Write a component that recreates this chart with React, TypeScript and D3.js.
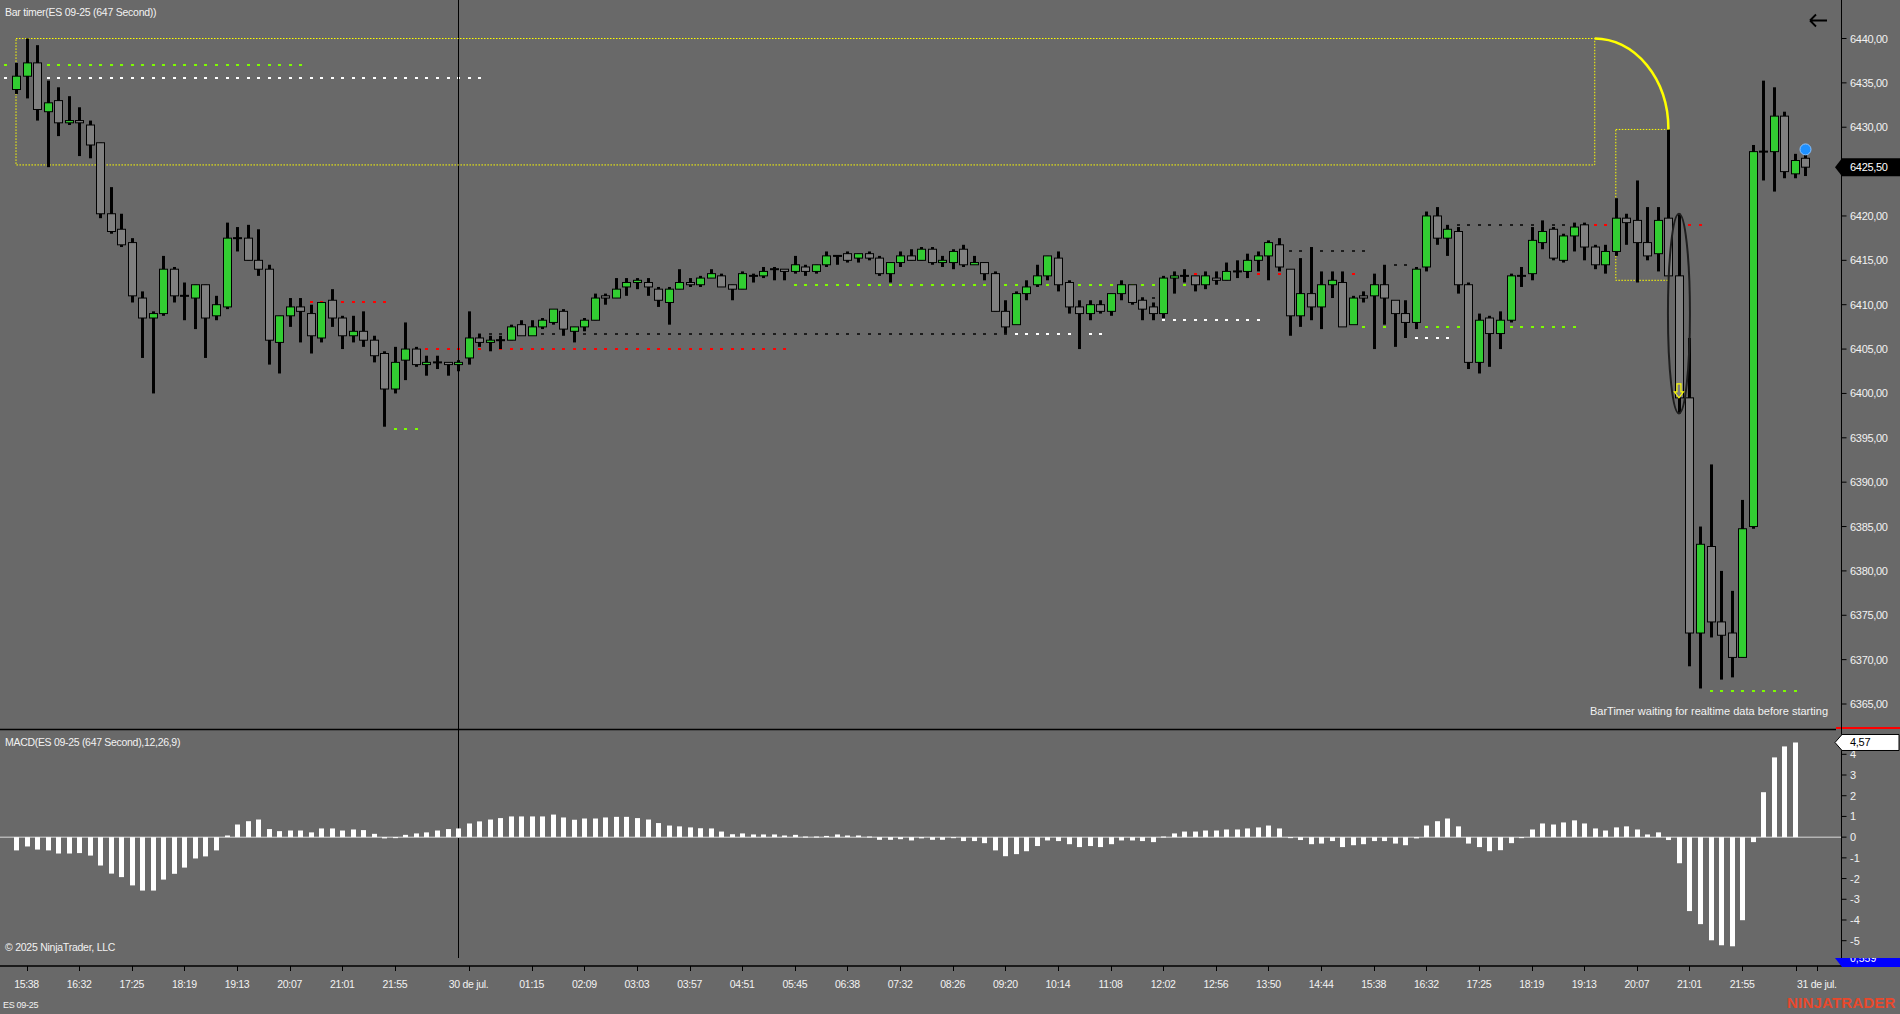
import React from 'react';
import * as d3 from 'd3';

// ---------- DATA ----------
const opens = [
  6434.25,6435.75,6437.25,6431.75,6433,6430.5,6430.75,6430.25,6428.25,6420.25,
  6418.5,6417,6410.75,6408.5,6409,6414,6411,6410.75,6412.25,6408.75,
  6409.75,6417.5,6417.5,6415,6414,6405.75,6408.75,6409.75,6409,6406.25,
  6410.5,6408.5,6406.5,6407,6406,6404.5,6400.5,6403.75,6405,6403.25,
  6403.5,6403.5,6403.25,6404,6406.25,6405.75,6406,6406,6407.75,6406.5,
  6407.5,6408,6409.25,6407,6407.5,6408.25,6411,6410.75,6412,6412.5,
  6412.5,6411.75,6410.25,6411.75,6412.5,6412.25,6413,6413.25,6412.25,6411.75,
  6413.25,6413.25,6414,6414,6413.75,6414.25,6413.75,6414.5,6415.5,6415.75,
  6415.25,6415.75,6415.25,6413.5,6414.75,6415.5,6415,6416.25,6414.75,6414.75,
  6416.25,6414.5,6414.75,6413.5,6409.25,6407.75,6411.25,6412.25,6413.25,6415.25,
  6412.5,6409.75,6409,6410,6409.25,6411.25,6412.25,6410.5,6409.75,6409,
  6413,6413.25,6413.25,6412.25,6413,6412.75,6413.75,6413.75,6415,6415.5,
  6416.75,6414,6408.75,6411.25,6409.75,6412.25,6412.5,6407.75,6411,6411,
  6412.25,6410.5,6409,6408,6414.25,6420,6417.5,6418.25,6412.25,6403.5,
  6408.5,6406.75,6408.25,6413.25,6413.5,6417,6418.5,6415,6417.75,6419,
  6416.5,6414.5,6416,6419.75,6419.5,6417,6415.75,6419.75,6413.25,6399.5,
  6373,6382.75,6374.25,6373,6370.25,6385,6427.25,6427.25,6431.25,6424.75,
  6426.5,
];
const highs = [
  6437.25,6440,6439.25,6435.25,6434.5,6433.5,6432.25,6430.75,6428.25,6423.25,
  6420.25,6417.5,6411.5,6409.25,6415.5,6414.25,6412.5,6412.25,6412.25,6411,
  6419.25,6418.75,6419,6418.5,6414.5,6408.75,6410.75,6410.75,6410,6410.25,
  6411.75,6408.75,6408.75,6409.25,6406.5,6404.75,6405.25,6408,6405.25,6404.25,
  6404.25,6403.5,6403.75,6409.25,6406.75,6406.5,6406.5,6407.75,6408.25,6408.25,
  6408.5,6409.5,6409.5,6407.5,6408.5,6411.25,6411.25,6413,6413,6413,
  6413,6412,6412,6414,6413,6413.25,6414,6413.5,6412.25,6413.75,
  6413.5,6414.25,6414.25,6414,6415.5,6414.5,6414.5,6416,6415.5,6416,
  6415.75,6416,6415.5,6414.75,6416,6416.25,6416.5,6416.5,6415.5,6416.25,
  6416.75,6415.5,6414.75,6413.75,6410.5,6411.5,6412.75,6414.5,6415.5,6416,
  6412.75,6410.5,6410.5,6410.5,6411.25,6412.75,6412.25,6410.75,6410.25,6413.25,
  6413.75,6414,6413.25,6413.75,6413.75,6414.75,6415,6415.75,6416,6417.25,
  6417.5,6414,6415.25,6416.5,6413.75,6413.75,6413.75,6411,6411.5,6413.5,
  6414.5,6410.5,6410.5,6414.25,6420.5,6421,6419,6418.75,6412.5,6409,
  6408.75,6409.25,6413.5,6414.25,6418.75,6419.5,6418.75,6418,6419.25,6419.25,
  6416.75,6416.75,6422,6420.25,6424,6421,6421,6429.75,6420.25,6406.25,
  6385,6392,6380,6377.75,6388,6428,6435.25,6434.5,6431.75,6427,
  6427,
];
const lows = [
  6433.75,6433.25,6430.75,6425.5,6429,6430.25,6426.75,6426.5,6419.75,6418,
  6416.5,6410.25,6404,6400,6408.75,6410.25,6408.25,6407.25,6404,6408.25,
  6409.5,6416,6415,6413.25,6403.25,6402.25,6407.5,6405.75,6404.5,6405.75,
  6407.5,6405,6405.75,6405.25,6403.5,6396.25,6400,6401.5,6403,6402,
  6402.75,6402,6402.5,6403.25,6405.25,6404.75,6405,6406,6406.5,6406.5,
  6407.25,6407.75,6406.5,6405.75,6407,6408.25,6410,6410.75,6411,6411.75,
  6411,6409.75,6407.75,6411.75,6412,6412,6413,6412,6410.5,6411.75,
  6412.5,6413,6412.75,6412.75,6413.5,6413.25,6413.5,6414.25,6414.5,6414.75,
  6414.75,6415,6413.25,6412.5,6414.25,6415,6415,6414.5,6414.25,6414,
  6414.25,6414.5,6412.75,6409.25,6406.75,6407.75,6410.5,6412,6412.75,6411.5,
  6409,6405,6408.25,6409,6408.75,6410.5,6410,6408.25,6408.25,6408.5,
  6411.25,6412.5,6411.5,6411.75,6412.25,6412.75,6413,6413,6413.75,6412.75,
  6413.75,6406.5,6407.5,6408.25,6407.25,6410.75,6407.5,6407.75,6410.25,6405,
  6407.75,6405.25,6406.25,6407.25,6413.75,6416.75,6415.5,6411.25,6402.75,6402.25,
  6403,6405,6408,6412,6412.75,6416.25,6415,6414.75,6416,6415,
  6414,6413.5,6415.5,6416.75,6412.5,6415,6413.75,6413.25,6397.75,6369.25,
  6366.75,6372.5,6367.75,6368,6370.25,6384.75,6424,6422.75,6424.25,6424.25,
  6424.5,
];
const closes = [
  6435.75,6437.25,6432,6432.75,6430.5,6430.75,6430.5,6428,6420.25,6418.25,
  6416.75,6411,6408.5,6409,6414,6411,6411,6412.25,6408.5,6410,
  6417.5,6417.5,6415,6414,6406,6408.75,6409.75,6409.25,6406.5,6410.25,
  6408.5,6406.5,6407,6406,6404.25,6400.5,6403.5,6405,6403.25,6403.5,
  6403.5,6403.25,6403.5,6406.25,6405.75,6406,6406,6407.5,6406.5,6407.5,
  6408.25,6409.5,6407.25,6407.5,6408.25,6410.75,6410.75,6411.75,6412.5,6412.75,
  6412,6410.5,6411.75,6412.5,6412.25,6413,6413.5,6412,6411.75,6413.5,
  6413.25,6413.75,6414,6413.75,6414.5,6413.75,6414.5,6415.5,6415.5,6415,
  6415.75,6415.25,6413.5,6414.75,6415.5,6415,6416.25,6414.75,6415,6416,
  6414.5,6414.75,6413.5,6409.25,6407.5,6411.25,6412,6413.25,6415.5,6412.25,
  6409.75,6409,6410,6409.25,6411.25,6412.25,6410.25,6409.5,6409,6413,
  6413.25,6413.25,6412.25,6413.25,6412.75,6413.75,6413.75,6415,6415.5,6417,
  6414.25,6408.75,6411.25,6409.75,6412.25,6412.75,6407.5,6410.75,6410.75,6412.25,
  6410.75,6409,6408,6414,6420,6417.5,6418.5,6412.25,6403.5,6408.25,
  6406.75,6408.25,6413.25,6413.25,6417.25,6418.25,6415.25,6417.75,6418.75,6416.5,
  6414.5,6416,6419.75,6419.25,6417,6415.5,6419.5,6413.25,6399.5,6373,
  6383,6374.25,6372.75,6370.25,6384.75,6427.25,6427.25,6431.25,6425,6426.25,
  6425.5,
];
const macdHist: (number | null)[] = [
  -0.64,-0.45,-0.60,-0.64,-0.79,-0.79,-0.77,-0.89,-1.37,-1.76,
  -1.93,-2.33,-2.58,-2.58,-2.05,-1.77,-1.47,-1.03,-0.93,-0.64,
  0.08,0.61,0.77,0.85,0.39,0.29,0.32,0.32,0.23,0.42,
  0.42,0.32,0.37,0.34,0.16,-0.06,0.0,0.11,0.18,0.23,
  0.32,0.39,0.42,0.66,0.76,0.85,0.92,1.0,1.0,1.0,
  1.0,1.09,0.95,0.84,0.90,0.90,0.95,0.98,0.98,0.92,
  0.85,0.68,0.56,0.52,0.47,0.43,0.42,0.27,0.14,0.18,
  0.13,0.13,0.13,0.08,0.11,0.03,0.03,0.06,0.13,0.08,
  0.08,0.03,-0.13,-0.13,-0.10,-0.16,-0.06,-0.13,-0.13,-0.05,
  -0.19,-0.19,-0.29,-0.64,-0.92,-0.82,-0.68,-0.43,-0.16,-0.19,
  -0.34,-0.48,-0.43,-0.48,-0.34,-0.16,-0.16,-0.19,-0.24,0.03,
  0.18,0.27,0.27,0.32,0.32,0.37,0.37,0.42,0.47,0.56,
  0.42,0.0,-0.14,-0.34,-0.31,-0.19,-0.48,-0.39,-0.34,-0.19,
  -0.19,-0.31,-0.39,-0.06,0.56,0.77,0.90,0.52,-0.31,-0.48,
  -0.68,-0.63,-0.29,-0.03,0.37,0.66,0.61,0.71,0.81,0.66,
  0.42,0.32,0.47,0.52,0.37,0.13,0.23,-0.14,-1.26,-3.57,
  -4.20,-4.98,-5.22,-5.27,-4.01,-0.24,2.17,3.85,4.38,4.57,
  null,
];
const priceTickValues = [6365,6370,6375,6380,6385,6390,6395,6400,6405,6410,6415,6420,6425,6430,6435,6440];
const macdTickValues = [-5,-4,-3,-2,-1,0,1,2,3,4];
const timeTickBars = [1,6,11,16,21,26,31,36,43,49,54,59,64,69,74,79,84,89,94,99,104,109,114,119,124,129,134,139,144,149,154,159,164,169.1,171.1];
const timeTickLabels = ['15:38','16:32','17:25','18:19','19:13','20:07','21:01','21:55','30 de jul.','01:15','02:09','03:03','03:57','04:51','05:45','06:38','07:32','08:26','09:20','10:14','11:08','12:02','12:56','13:50','14:44','15:38','16:32','17:25','18:19','19:13','20:07','21:01','21:55','','31 de jul.'];
// dotted level lines (price, first bar, last bar, kind)
const levelPrices = [6437,6435.5,6410.25,6405,6396,6406.75,6412.25,6406.75,6408.25,6413.5,6416,6414.5,6410.25,6407.5,6406.25,6419,6419,6366.5,6410.75];
const levelFrom =   [-1,-1,28,39,36,45,74,95,109,112,119,131,129,128,133,137,149,161,104];
const levelTo =     [27,44,35,73,38,94,111,103,118,127,128,132,130,148,136,147,160,169,108];
const levelKinds =  ['g','w','r','r','g','k','g','w','w','r','k','k','w','g','w','k','r','g','k'];
const lastPrice = 6425.5;
const lastMacd = 4.57;
const sessionBreakBar = 42;

export default function App() {
  const W = 1900, H = 1014;
  const axisX = 1841.5;
  const x = d3.scaleLinear().domain([0, 170]).range([16, 16 + 170 * 10.525]);
  const y = d3.scaleLinear().domain([6365, 6440]).range([704, 38.5]);
  const ym = d3.scaleLinear().domain([-5, 4]).range([940.7, 754.3]);
  const font = "'Liberation Sans', Arial, sans-serif";
  const txt = '#f2f2f2';
  const bull = '#32cd32', bear = '#808080';
  const levelColor: Record<string, string> = { g: '#7cfc00', w: '#ffffff', r: '#ff0000', k: '#1c1c1c' };
  const fmtP = (v: number) => v.toFixed(2).replace('.', ',');
  const cx = (i: number) => Math.round(x(i)) + 0.5;

  const arcX1 = x(150), arcY1 = y(6440), arcX2 = x(157), arcY2 = y(6429.75);
  const arcPath = `M${arcX1},${arcY1} A${arcX2 - arcX1},${arcY2 - arcY1} 0 0 1 ${arcX2},${arcY2}`;
  const elCx = x(158), elTop = y(6420.25), elBot = y(6397.75);
  const arrTip = y(6399.5);
  const aX = x(158);
  const arrowPath = `M${aX - 2},${arrTip - 14} L${aX + 2},${arrTip - 14} L${aX + 2},${arrTip - 6} L${aX + 4.5},${arrTip - 6} L${aX},${arrTip} L${aX - 4.5},${arrTip - 6} L${aX - 2},${arrTip - 6} Z`;
  const lpY = y(lastPrice);
  const lmY = ym(lastMacd);

  return (
    <svg width={W} height={H} style={{ position: 'absolute', left: 0, top: 0, display: 'block' }} fontFamily={font}>
      <defs>
        <clipPath id="blueclip"><rect x={1830} y={958} width={70} height={9} /></clipPath>
      </defs>
      <rect x={0} y={0} width={W} height={H} fill="#696969" />

      {/* level dashes */}
      {levelPrices.map((p, k) => {
        const ys = Math.round(y(p)) - 1;
        return (
          <g key={'lv' + k}>
            {d3.range(levelFrom[k], levelTo[k] + 1).map(i => (
              <rect key={i} x={cx(i) - 1.5} y={ys} width={3} height={2} fill={levelColor[levelKinds[k]]} />
            ))}
          </g>
        );
      })}

      {/* session break line */}
      <line x1={cx(sessionBreakBar)} x2={cx(sessionBreakBar)} y1={0} y2={958} stroke="#000" strokeWidth={1} />

      {/* yellow boxes */}
      <rect x={x(0)} y={y(6440)} width={x(150) - x(0)} height={y(6425.75) - y(6440)} fill="none" stroke="#ffff00" strokeWidth={1} strokeDasharray="1.5 1.5" />
      <rect x={x(152)} y={y(6429.75)} width={x(157) - x(152)} height={y(6412.75) - y(6429.75)} fill="none" stroke="#ffff00" strokeWidth={1} strokeDasharray="1.5 1.5" />

      {/* candles */}
      {opens.map((o, i) => {
        const c = closes[i], hi = highs[i], lo = lows[i];
        const X = cx(i);
        const yH = y(hi), yL = y(lo);
        const yT = y(Math.max(o, c)), yB = y(Math.min(o, c));
        const h = yB - yT;
        return (
          <g key={'c' + i}>
            <rect x={X - 1.5} y={yH} width={3} height={Math.max(yL - yH, 1)} fill="#000" />
            {o === c ? (
              <rect x={X - 4.5} y={yT - 1} width={9} height={2} fill="#000" />
            ) : (
              <>
                <rect x={X - 4.5} y={yT - 0.5} width={9} height={h + 1} fill="#000" />
                {h > 1 && <rect x={X - 3.5} y={yT + 0.5} width={7} height={h - 1} fill={c > o ? bull : bear} />}
              </>
            )}
          </g>
        );
      })}

      {/* drawings */}
      <path d={arcPath} fill="none" stroke="#ffff00" strokeWidth={2.5} />
      <ellipse cx={elCx} cy={(elTop + elBot) / 2} rx={11} ry={(elBot - elTop) / 2} fill="none" stroke="#1e1e1e" strokeWidth={2} />
      <path d={arrowPath} fill="none" stroke="#ffff00" strokeWidth={1.2} />
      <circle cx={cx(170)} cy={y(6427.5)} r={5.5} fill="#1e90ff" stroke="#8cc4ff" strokeWidth={1} />

      {/* back arrow */}
      <path d="M1810,20.5 L1827,20.5 M1810,20.5 L1816,14.5 M1810,20.5 L1816,26.5" stroke="#000" strokeWidth={1.8} fill="none" />

      {/* texts */}
      <text x={5} y={16} fontSize={10.5} letterSpacing={-0.25} fill={txt}>Bar timer(ES 09-25 (647 Second))</text>
      <text x={1828} y={715} fontSize={11} fill={txt} textAnchor="end">BarTimer waiting for realtime data before starting</text>
      <text x={5} y={746} fontSize={10.5} letterSpacing={-0.3} fill={txt}>MACD(ES 09-25 (647 Second),12,26,9)</text>
      <text x={5} y={950.5} fontSize={10.5} letterSpacing={-0.25} fill={txt}>© 2025 NinjaTrader, LLC</text>
      <text x={3} y={1008} fontSize={9} letterSpacing={-0.3} fill={txt}>ES 09-25</text>
      <text x={1787} y={1008} fontSize={15} fontWeight="bold" letterSpacing={0.2} fill="#e8482c">NINJATRADER</text>

      {/* MACD histogram */}
      <line x1={0} x2={axisX} y1={ym(0)} y2={ym(0)} stroke="#b4b4b4" strokeWidth={1.5} />
      {macdHist.map((v, i) => v === null ? null : (
        <rect key={'m' + i} x={Math.round(x(i)) - 2} y={Math.min(ym(v), ym(0))} width={5} height={Math.max(Math.abs(ym(v) - ym(0)), 1)} fill="#ffffff" />
      ))}

      {/* panel separators and axes */}
      <line x1={0} x2={1836} y1={729.5} y2={729.5} stroke="#000" strokeWidth={1.5} />
      <line x1={1836} x2={W} y1={728} y2={728} stroke="#ff0000" strokeWidth={2} />
      <line x1={0} x2={W} y1={966} y2={966} stroke="#000" strokeWidth={1.5} />
      <line x1={axisX} x2={axisX} y1={0} y2={966} stroke="#000" strokeWidth={1} />

      {priceTickValues.map(v => (
        <g key={'pt' + v}>
          <line x1={axisX} x2={axisX + 5} y1={y(v)} y2={y(v)} stroke="#000" />
          {Math.abs(y(v) - lpY) > 12 && (
            <text x={1850} y={y(v) + 4} fontSize={11} letterSpacing={-0.3} fill={txt}>{fmtP(v)}</text>
          )}
        </g>
      ))}
      {macdTickValues.map(v => (
        <g key={'mt' + v}>
          <line x1={axisX} x2={axisX + 5} y1={ym(v)} y2={ym(v)} stroke="#000" />
          <text x={1850} y={ym(v) + 4} fontSize={11} fill={txt}>{String(v)}</text>
        </g>
      ))}
      {timeTickBars.map((b, k) => (
        <g key={'tt' + k}>
          <line x1={Math.round(x(b)) + 0.5} x2={Math.round(x(b)) + 0.5} y1={966} y2={971} stroke="#000" />
          {timeTickLabels[k] && <text x={x(b)} y={988} fontSize={10.5} letterSpacing={-0.3} textAnchor="middle" fill={txt}>{timeTickLabels[k]}</text>}
        </g>
      ))}

      {/* last price label */}
      <path d={`M1835,${lpY} L1842,${lpY - 9} L${W},${lpY - 9} L${W},${lpY + 9} L1842,${lpY + 9} Z`} fill="#000" />
      <text x={1850} y={lpY + 4} fontSize={11} letterSpacing={-0.3} fill="#ffffff">{fmtP(lastPrice)}</text>

      {/* last macd label */}
      <path d={`M1835,${lmY} L1842,${lmY - 8} L${W - 1},${lmY - 8} L${W - 1},${lmY + 8} L1842,${lmY + 8} Z`} fill="#ffffff" stroke="#000" strokeWidth={1} />
      <text x={1850} y={lmY + 4} fontSize={11} letterSpacing={-0.3} fill="#000">{lastMacd.toFixed(2).replace('.', ',')}</text>

      {/* clipped blue label */}
      <g clipPath="url(#blueclip)">
        <path d="M1835,958 L1842,967 L1900,967 L1900,949 L1842,949 Z" fill="#0000ff" />
        <text x={1850} y={962} fontSize={10.5} fill="#ffffff">0,559</text>
      </g>
    </svg>
  );
}
